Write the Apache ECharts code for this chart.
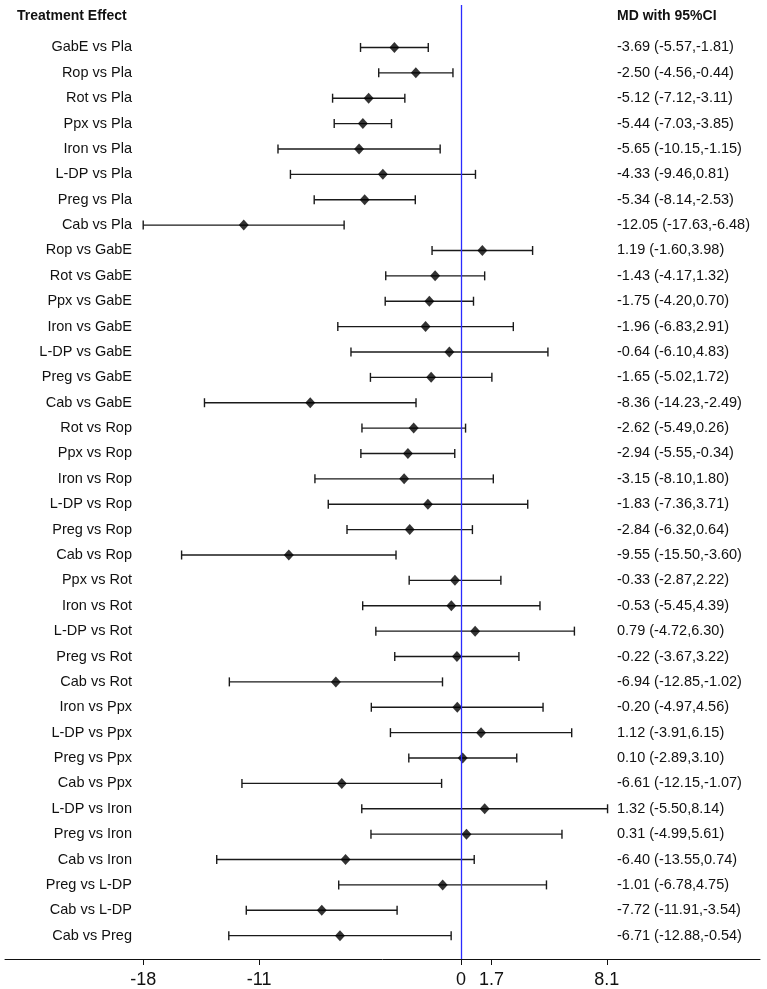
<!DOCTYPE html>
<html><head><meta charset="utf-8">
<script src="https://cdn.jsdelivr.net/npm/echarts@6/dist/echarts.min.js"></script>
<style>html,body{margin:0;padding:0;background:#fff}#c{width:767px;height:989px}</style>
</head><body><div id="c"></div>
<script>
const comparisons = ["GabE vs Pla","Rop vs Pla","Rot vs Pla","Ppx vs Pla","Iron vs Pla","L-DP vs Pla","Preg vs Pla","Cab vs Pla",
"Rop vs GabE","Rot vs GabE","Ppx vs GabE","Iron vs GabE","L-DP vs GabE","Preg vs GabE","Cab vs GabE",
"Rot vs Rop","Ppx vs Rop","Iron vs Rop","L-DP vs Rop","Preg vs Rop","Cab vs Rop",
"Ppx vs Rot","Iron vs Rot","L-DP vs Rot","Preg vs Rot","Cab vs Rot",
"Iron vs Ppx","L-DP vs Ppx","Preg vs Ppx","Cab vs Ppx",
"L-DP vs Iron","Preg vs Iron","Cab vs Iron",
"Preg vs L-DP","Cab vs L-DP","Cab vs Preg"];
const md = [-3.69,-2.50,-5.12,-5.44,-5.65,-4.33,-5.34,-12.05,
1.19,-1.43,-1.75,-1.96,-0.64,-1.65,-8.36,
-2.62,-2.94,-3.15,-1.83,-2.84,-9.55,
-0.33,-0.53,0.79,-0.22,-6.94,
-0.20,1.12,0.10,-6.61,
1.32,0.31,-6.40,
-1.01,-7.72,-6.71];
const lower = [-5.57,-4.56,-7.12,-7.03,-10.15,-9.46,-8.14,-17.63,
-1.60,-4.17,-4.20,-6.83,-6.10,-5.02,-14.23,
-5.49,-5.55,-8.10,-7.36,-6.32,-15.50,
-2.87,-5.45,-4.72,-3.67,-12.85,
-4.97,-3.91,-2.89,-12.15,
-5.50,-4.99,-13.55,
-6.78,-11.91,-12.88];
const upper = [-1.81,-0.44,-3.11,-3.85,-1.15,0.81,-2.53,-6.48,
3.98,1.32,0.70,2.91,4.83,1.72,-2.49,
0.26,-0.34,1.80,3.71,0.64,-3.60,
2.22,4.39,6.30,3.22,-1.02,
4.56,6.15,3.10,-1.07,
8.14,5.61,0.74,
4.75,-3.54,-0.54];
const tickValues = [-17.63,-11.2,0,1.7,8.1];
const tickLabels = ["-18","-11","0","1.7","8.1"];

const idx = comparisons.map((_, i) => i);
const ciText = md.map((m, i) => `${m.toFixed(2)} (${lower[i].toFixed(2)},${upper[i].toFixed(2)})`);
const FONT = '"Liberation Sans", Arial, sans-serif';

const chart = echarts.init(document.getElementById('c'), null, {renderer: 'canvas'});
const yCommon = {
  type: 'value', min: -1.673, max: 35.92, inverse: true,
  axisLine: {show: false}, axisTick: {show: false}, splitLine: {show: false}
};
chart.setOption({
  animation: false,
  backgroundColor: '#fff',
  grid: {left: 5, right: 7, top: 5, bottom: 29, containLabel: false},
  xAxis: {
    type: 'value', min: -25.3, max: 16.6,
    axisLine: {show: true, onZero: false, lineStyle: {color: '#111', width: 1}},
    axisTick: {show: true, length: 6, customValues: tickValues, lineStyle: {color: '#111'}},
    axisLabel: {show: true, customValues: tickValues, margin: 12, fontSize: 18, color: '#111', fontFamily: FONT,
      formatter: v => { const k = tickValues.findIndex(t => Math.abs(t - v) < 1e-6); return k >= 0 ? tickLabels[k] : ''; }},
    splitLine: {show: false}
  },
  yAxis: [
    Object.assign({}, yCommon, {position: 'left', offset: -127,
      axisLabel: {customValues: idx, margin: 0, fontSize: 14.5, color: '#111', fontFamily: FONT, align: 'right',
        formatter: v => comparisons[Math.round(v)] || ''}}),
    Object.assign({}, yCommon, {position: 'right', offset: -143,
      axisLabel: {customValues: idx, margin: 0, fontSize: 14.5, color: '#111', fontFamily: FONT, align: 'left',
        formatter: v => ciText[Math.round(v)] || ''}})
  ],
  graphic: [
    {type: 'text', left: 17, top: 9, style: {text: 'Treatment Effect', font: 'bold 14px ' + FONT, fill: '#111'}},
    {type: 'text', left: 617, top: 9, style: {text: 'MD with 95%CI', font: 'bold 14px ' + FONT, fill: '#111'}}
  ],
  series: [
    {
      type: 'custom',
      data: idx.map(i => [lower[i], upper[i], i]),
      encode: {x: [0, 1], y: 2},
      renderItem: (params, api) => {
        const a = api.coord([api.value(0), api.value(2)]);
        const b = api.coord([api.value(1), api.value(2)]);
        const h = 4.5;
        const st = {stroke: '#1a1a1a', lineWidth: 1.4};
        return {type: 'group', children: [
          {type: 'line', shape: {x1: a[0], y1: a[1], x2: b[0], y2: b[1]}, style: st},
          {type: 'line', shape: {x1: a[0], y1: a[1] - h, x2: a[0], y2: a[1] + h}, style: st},
          {type: 'line', shape: {x1: b[0], y1: b[1] - h, x2: b[0], y2: b[1] + h}, style: st}
        ]};
      },
      z: 2
    },
    {
      type: 'scatter',
      data: idx.map(i => [md[i], i]),
      symbol: 'diamond', symbolSize: [10, 11],
      itemStyle: {color: '#000'},
      z: 3,
      markLine: {
        silent: true, symbol: 'none', label: {show: false},
        lineStyle: {color: '#2b2bff', type: 'solid', width: 1.3},
        data: [{xAxis: 0}]
      }
    }
  ]
});
</script></body></html>
